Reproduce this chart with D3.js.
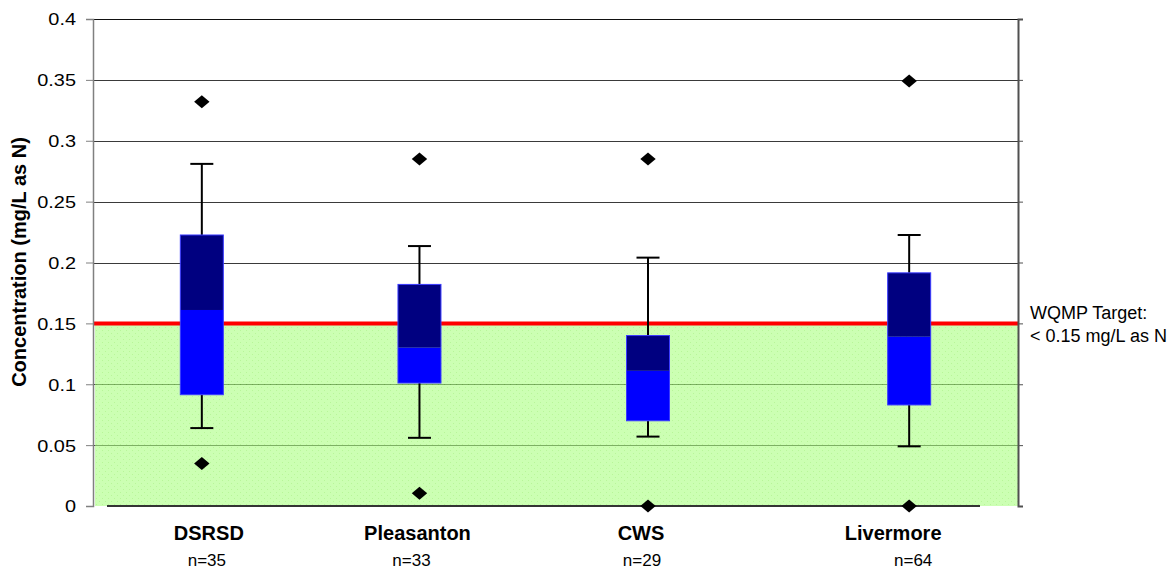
<!DOCTYPE html>
<html>
<head>
<meta charset="utf-8">
<script src="https://cdn.jsdelivr.net/npm/d3@7"></script>
<style>
  html, body { margin: 0; padding: 0; background: #fff; }
  svg { display: block; font-family: "Liberation Sans", Arial, sans-serif; }
</style>
</head>
<body>
<svg id="chart" width="1171" height="569"></svg>
<script>
// Treatment plant sites and their x-positions on the category axis
const sites = ["DSRSD", "Pleasanton", "CWS", "Livermore"];
const siteX = [1, 3, 5.1, 7.5];
const sampleCounts = [35, 33, 29, 64];

// Box-plot statistics (mg/L as N)
const whiskerLow  = [0.064, 0.056, 0.057, 0.049];
const q1          = [0.0914, 0.101, 0.070, 0.083];
const median      = [0.161, 0.130, 0.111, 0.139];
const q3          = [0.2226, 0.182, 0.140, 0.1915];
const whiskerHigh = [0.281, 0.2135, 0.204, 0.2226];
const outlierLow  = [0.035, 0.0104, 0.000, 0.000];
const outlierHigh = [0.332, 0.285, 0.285, 0.349];

const yTicks = [0, 0.05, 0.1, 0.15, 0.2, 0.25, 0.3, 0.35, 0.4];
const target = 0.15;
const targetLines = ["WQMP Target:", "< 0.15 mg/L as N"];

const svg = d3.select("#chart");
const plot = { left: 93, right: 1018, top: 19, bottom: 506 };

const x = d3.scaleLinear().domain([0, 8.5]).range([plot.left, plot.right]);
const y = d3.scaleLinear().domain([0, 0.4]).range([plot.bottom, plot.top]);

// Dotted fill for the under-target band
const defs = svg.append("defs");
const pat = defs.append("pattern")
  .attr("id", "dots").attr("patternUnits", "userSpaceOnUse")
  .attr("width", 6).attr("height", 6);
pat.append("rect").attr("width", 6).attr("height", 6).attr("fill", "#aaff80");
pat.append("rect").attr("x", 0).attr("y", 0).attr("width", 1).attr("height", 1).attr("fill", "#88f055");
pat.append("rect").attr("x", 3).attr("y", 3).attr("width", 1).attr("height", 1).attr("fill", "#88f055");

// Horizontal gridlines
svg.append("g").selectAll("line")
  .data(yTicks.filter(d => d > 0))
  .join("line")
  .attr("x1", plot.left).attr("x2", plot.right)
  .attr("y1", d => Math.round(y(d)) + 0.5).attr("y2", d => Math.round(y(d)) + 0.5)
  .attr("stroke", d => d === 0.4 ? "#111" : "#3a3a3a")
  .attr("stroke-width", 1);

// Band below the target
svg.append("rect")
  .attr("x", plot.left + 2).attr("y", y(target))
  .attr("width", plot.right - plot.left - 2)
  .attr("height", y(0) - y(target))
  .attr("fill", "url(#dots)").attr("opacity", 0.6);

// Target line
svg.append("line")
  .attr("x1", plot.left).attr("x2", plot.right)
  .attr("y1", y(target)).attr("y2", y(target))
  .attr("stroke", "#ff0000").attr("stroke-width", 4);

// Left axis
const yAxis = d3.axisLeft(y).tickValues(yTicks).tickSize(7).tickFormat(d3.format("~g"));
const gY = svg.append("g").attr("transform", `translate(${plot.left},0)`).call(yAxis);
gY.select(".domain").attr("stroke", "#808080").attr("stroke-width", 1.5);
gY.selectAll(".tick line").attr("stroke", "#808080");
gY.selectAll(".tick text")
  .attr("x", null).attr("dy", null)
  .attr("fill", "#000")
  .attr("font-size", 17)
  .attr("font-family", "'Liberation Sans', Arial, sans-serif")
  .attr("text-anchor", "end")
  .attr("dominant-baseline", "central")
  .attr("transform", "translate(-17,0) scale(1.17,1)");

// Right axis
const yAxisR = d3.axisRight(y).tickValues(yTicks).tickSize(5).tickFormat("");
const gR = svg.append("g").attr("transform", `translate(${plot.right},0)`).call(yAxisR);
gR.select(".domain").attr("stroke", "#505050").attr("stroke-width", 2);
gR.selectAll(".tick line").attr("stroke", "#505050");

// Category baseline
svg.append("line")
  .attr("x1", plot.left + 14).attr("x2", plot.right - 38)
  .attr("y1", y(0)).attr("y2", y(0))
  .attr("stroke", "#333").attr("stroke-width", 2);

// Boxes
const boxW = 43, capW = 23;
const g = svg.append("g");
sites.forEach((s, i) => {
  const cx = x(siteX[i]);
  // whiskers
  g.append("line").attr("x1", cx).attr("x2", cx)
    .attr("y1", y(whiskerHigh[i])).attr("y2", y(q3[i]))
    .attr("stroke", "#000").attr("stroke-width", 2);
  g.append("line").attr("x1", cx).attr("x2", cx)
    .attr("y1", y(q1[i])).attr("y2", y(whiskerLow[i]))
    .attr("stroke", "#000").attr("stroke-width", 2);
  [whiskerHigh[i], whiskerLow[i]].forEach(v => {
    g.append("line").attr("x1", cx - capW / 2).attr("x2", cx + capW / 2)
      .attr("y1", y(v)).attr("y2", y(v))
      .attr("stroke", "#000").attr("stroke-width", 2);
  });
  // upper box (median to Q3)
  g.append("rect")
    .attr("x", cx - boxW / 2).attr("width", boxW)
    .attr("y", y(q3[i])).attr("height", y(median[i]) - y(q3[i]))
    .attr("fill", "#000080");
  // lower box (Q1 to median)
  g.append("rect")
    .attr("x", cx - boxW / 2).attr("width", boxW)
    .attr("y", y(median[i])).attr("height", y(q1[i]) - y(median[i]))
    .attr("fill", "#0000ff");
  g.append("rect")
    .attr("x", cx - boxW / 2).attr("width", boxW)
    .attr("y", y(q3[i])).attr("height", y(q1[i]) - y(q3[i]))
    .attr("fill", "none").attr("stroke", "#3a3aff").attr("stroke-width", 1);
});

// Outliers as diamonds
const diamond = (cx, cy) => `M${cx},${cy - 6.5}L${cx + 7.7},${cy}L${cx},${cy + 6.5}L${cx - 7.7},${cy}Z`;
const outliers = sites.flatMap((s, i) => [
  { xv: siteX[i], v: outlierHigh[i] },
  { xv: siteX[i], v: outlierLow[i] }
]);
svg.append("g").selectAll("path")
  .data(outliers)
  .join("path")
  .attr("d", d => diamond(x(d.xv), y(d.v)))
  .attr("fill", "#000");

// Category labels and sample counts
const nameShift = [7, -2, -7, -16];
const countShift = [5, -8, -6, 4];
svg.append("g").selectAll("text")
  .data(sites)
  .join("text")
  .attr("x", (d, i) => x(siteX[i]) + nameShift[i])
  .attr("y", 540)
  .attr("text-anchor", "middle")
  .attr("font-size", 20).attr("font-weight", "bold")
  .text(d => d);
svg.append("g").selectAll("text")
  .data(sampleCounts)
  .join("text")
  .attr("x", (d, i) => x(siteX[i]) + countShift[i])
  .attr("y", 566)
  .attr("text-anchor", "middle")
  .attr("font-size", 17)
  .text(d => `n=${d}`);

// Y axis title
svg.append("text")
  .attr("transform", "translate(26,262) rotate(-90)")
  .attr("text-anchor", "middle")
  .attr("font-size", 20).attr("font-weight", "bold")
  .text("Concentration (mg/L as N)");

// Target annotation
svg.append("g").selectAll("text")
  .data(targetLines)
  .join("text")
  .attr("x", 1030)
  .attr("y", (d, i) => 319 + i * 23)
  .attr("font-size", 18)
  .text(d => d);
</script>
</body>
</html>
